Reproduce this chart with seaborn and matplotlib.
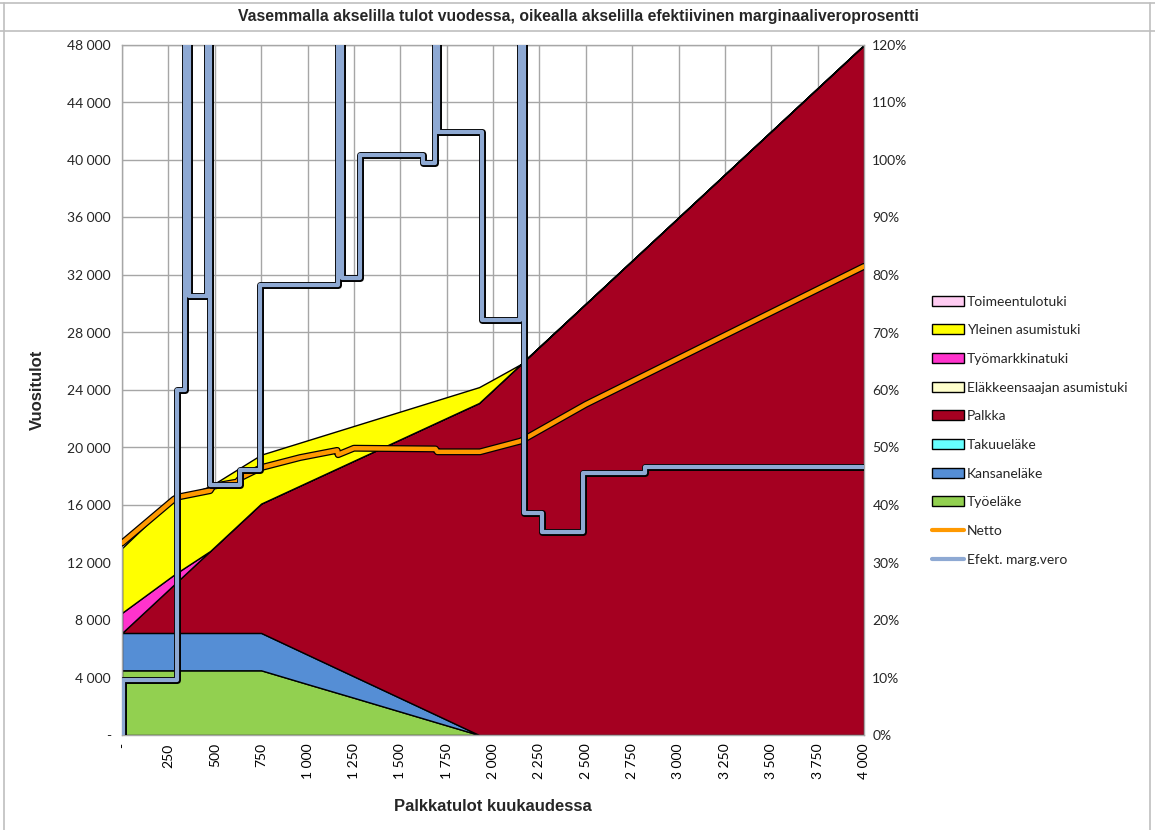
import matplotlib
matplotlib.use("Agg")
import matplotlib.pyplot as plt
import matplotlib.patheffects as pe
from matplotlib.patches import Patch
from matplotlib.lines import Line2D
from matplotlib.ticker import FuncFormatter, MultipleLocator
import numpy as np
import seaborn as sns

# ---------------- data ----------------
wage = [0, 275, 300, 475, 625, 750, 1000, 1250, 1500, 1750, 1925, 2000, 2150,
        2250, 2500, 2750, 3000, 3250, 3500, 3750, 4000]
tyoelake = [4500, 4500, 4500, 4500, 4500, 4500, 3540, 2590, 1630, 670, 0, 0, 0,
            0, 0, 0, 0, 0, 0, 0, 0]
kansanelake = [2600, 2600, 2600, 2600, 2600, 2600, 2050, 1490, 940, 390, 0, 0, 0,
               0, 0, 0, 0, 0, 0, 0, 0]
takuuelake = [0] * 21
palkka = [0, 3300, 3600, 5700, 7500, 9000, 12000, 15000, 18000, 21000, 23100, 24000, 25800,
          27000, 30000, 33000, 36000, 39000, 42000, 45000, 48000]
elakk_asumistuki = [0] * 21
tyomarkkinatuki = [1400, 700, 620, 0, 0, 0, 0, 0, 0, 0, 0, 0, 0,
                   0, 0, 0, 0, 0, 0, 0, 0]
yleinen_asumistuki = [4500, 5300, 5180, 4500, 3900, 3400, 2910, 2420, 1930, 1440, 1100, 730, 0,
                      0, 0, 0, 0, 0, 0, 0, 0]
toimeentulotuki = [0] * 21

netto_x = [0, 280, 300, 475, 490, 620, 640, 750, 960, 1160, 1165, 1250, 1690, 1700,
           1930, 2150, 2500, 3000, 3500, 4000]
netto = [13350, 16400, 16550, 17000, 17300, 17600, 17900, 18600, 19300, 19800, 19500,
         19950, 19900, 19700, 19700, 20450, 23000, 26200, 29400, 32600]

marg_x = [0, 3, 296, 340, 360, 458, 474, 636, 744, 1164, 1186, 1283, 1623, 1687, 1703,
          1941, 2146, 2167, 2264, 2485, 2819, 4000]
marg_pct = [0, 9.6, 60.0, 300, 76.3, 300, 43.5, 46.1, 78.3, 300, 79.5, 100.9, 99.5, 300,
            104.9, 72.2, 300, 38.6, 35.3, 45.6, 46.6, 46.6]

x_ticks = list(range(0, 4001, 250))
y_ticks = list(range(0, 48001, 4000))

series = [  # bottom -> top
    ("Työeläke", tyoelake, "#92D050"),
    ("Kansaneläke", kansanelake, "#558ED5"),
    ("Takuueläke", takuuelake, "#66FFFF"),
    ("Palkka", palkka, "#A50021"),
    ("Eläkkeensaajan asumistuki", elakk_asumistuki, "#FFFFCC"),
    ("Työmarkkinatuki", tyomarkkinatuki, "#FF33CC"),
    ("Yleinen asumistuki", yleinen_asumistuki, "#FFFF00"),
    ("Toimeentulotuki", toimeentulotuki, "#FFCCF2"),
]

# ---------------- style ----------------
sns.set_style("white")
plt.rcParams["font.family"] = ["Lato", "DejaVu Sans"]
narrow = ["Liberation Sans Narrow", "Liberation Sans", "DejaVu Sans"]

W, H = 1155, 830
fig = plt.figure(figsize=(W / 100, H / 100), dpi=100)
ax = fig.add_axes([122 / W, 95 / H, 742 / W, 690 / H])

# outer frame lines
frame_c = "#BFBFBF"
for (x0, y0, x1, y1) in [(0, 3, W, 3), (0, 31, W, 31), (4, 3, 4, H), (1150, 3, 1150, H)]:
    fig.add_artist(Line2D([x0 / W, x1 / W], [1 - y0 / H, 1 - y1 / H],
                          transform=fig.transFigure, color=frame_c, lw=1.2))

# stacked areas
xs = np.array(wage, dtype=float)
base = np.zeros_like(xs)
for name, vals, col in series:
    v = np.array(vals, dtype=float)
    top = base + v
    if v.any():
        ax.fill_between(xs, base, top, facecolor=col, edgecolor="black",
                        linewidth=1.0, zorder=2)
    base = top

# netto line
sns.lineplot(x=netto_x, y=netto, ax=ax, color="#FF9900", lw=3.2, legend=False,
             estimator=None, sort=False, zorder=4)
ax.lines[-1].set_path_effects([pe.Stroke(linewidth=5.0, foreground="black"), pe.Normal()])

ax.set_xlim(0, 4000)
ax.set_ylim(0, 48000)
ax.set_xticks(x_ticks)
ax.set_yticks(y_ticks)
ax.grid(True, color="#A6A6A6", lw=1.0)
ax.set_axisbelow(True)


def fmt_thousand(v, pos=None):
    v = int(round(v))
    if v == 0:
        return "-"
    return f"{v:,}".replace(",", " ")


ax.xaxis.set_major_formatter(FuncFormatter(fmt_thousand))
ax.yaxis.set_major_formatter(FuncFormatter(fmt_thousand))
ax.tick_params(axis="x", labelrotation=90, labelsize=10, pad=6, length=0, colors="#000000")
ax.tick_params(axis="y", labelsize=10, pad=8, length=0)
for lab in ax.get_xticklabels():
    lab.set_va("top")
for s in ax.spines.values():
    s.set_color("#A6A6A6")
    s.set_linewidth(1.0)

ax.set_xlabel("Palkkatulot kuukaudessa", fontsize=12, fontweight="bold", family=narrow,
              labelpad=14)
ax.set_ylabel("Vuositulot", fontsize=12, fontweight="bold", family=narrow, labelpad=16)

# marginal rate on right axis
ax2 = ax.twinx()
sns.lineplot(x=marg_x, y=np.array(marg_pct) / 100.0, ax=ax2, color="#8EA9D3", lw=3.0,
             drawstyle="steps-post", legend=False, estimator=None, sort=False)
ax2.lines[-1].set_path_effects([pe.Stroke(linewidth=5.0, foreground="black"), pe.Normal()])
ax2.set_ylim(0, 1.2)
ax2.yaxis.set_major_locator(MultipleLocator(0.1))
ax2.yaxis.set_major_formatter(FuncFormatter(lambda v, p: f"{int(round(v * 100))}%"))
ax2.tick_params(axis="y", labelsize=10, pad=6, length=0)
ax2.set_xlim(0, 4000)
for s in ax2.spines.values():
    s.set_visible(False)
ax2.set_ylabel("")

# title
fig.text(578 / W, 1 - 17 / H,
         "Vasemmalla akselilla tulot vuodessa, oikealla akselilla efektiivinen marginaaliveroprosentti",
         ha="center", va="center", fontsize=11.3, fontweight="bold", family=narrow)

# legend
handles, labels = [], []
for name, vals, col in reversed(series):
    handles.append(Patch(facecolor=col, edgecolor="black", linewidth=1.0))
    labels.append(name)
handles.append(Line2D([], [], color="#FF9900", lw=3))
labels.append("Netto")
handles.append(Line2D([], [], color="#8EA9D3", lw=3))
labels.append("Efekt. marg.vero")
fig.legend(handles, labels, loc="upper left", bbox_to_anchor=(926 / W, 1 - 290 / H),
           frameon=False, fontsize=10, labelspacing=1.2, handlelength=2.3,
           handleheight=0.72, handletextpad=0.25, borderaxespad=0)

fig.savefig("out.png", dpi=100)
